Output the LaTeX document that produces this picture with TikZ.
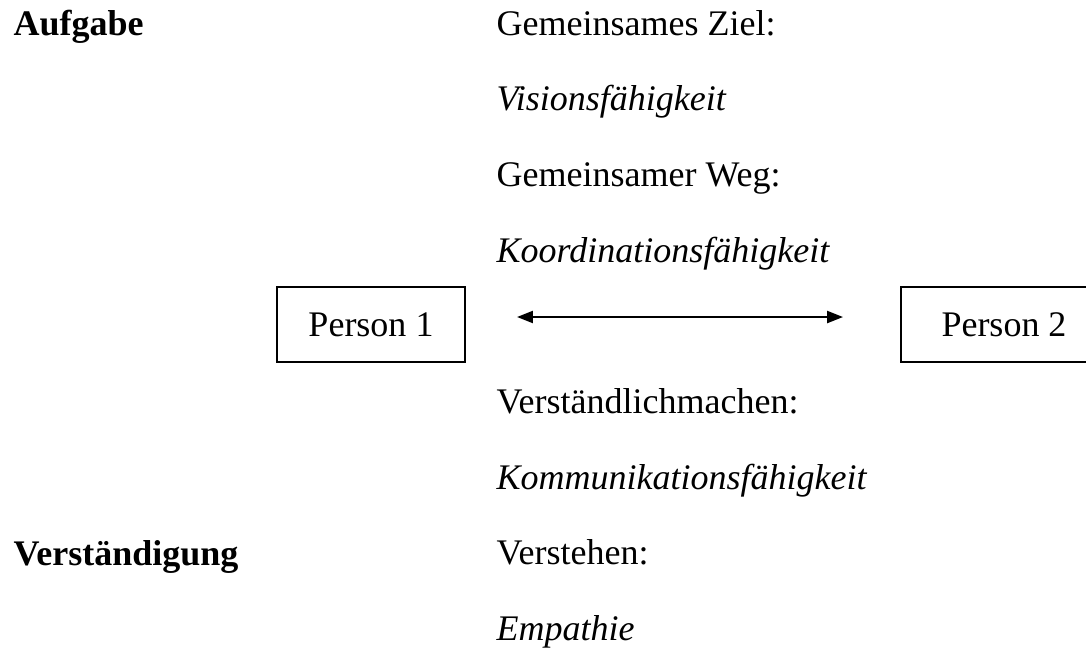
\documentclass[tikz,border=0pt]{standalone}
\usepackage{fontspec}
\setmainfont{Liberation Serif}
\usetikzlibrary{arrows.meta}
\tikzset{
    txt/.style={anchor=base west, inner sep=0pt, font=\fontsize{12}{14}\selectfont},
    head/.style={txt, font=\fontsize{12}{14}\selectfont\bfseries},
    ability/.style={txt, font=\fontsize{12}{14}\selectfont\itshape},
    personbox/.style={draw, line width=0.9pt, inner sep=0pt, minimum width=62.67pt, minimum height=25pt, font=\fontsize{12}{14}\selectfont},
}

\begin{document}
\begin{tikzpicture}[x=0.3333pt, y=-0.3333pt]
\useasboundingbox (0,0) rectangle (1086,647);
\node[head] (aufgabe) at (13,35) {Aufgabe};
\node[head] (verstaendigung) at (13,565) {Verständigung};

\node[txt] (ziel) at (496,35) {Gemeinsames Ziel:};
\node[ability] (vision) at (496,110.7) {Visionsfähigkeit};
\node[txt] (weg) at (496,186.4) {Gemeinsamer Weg:};
\node[ability] (koord) at (496,262.1) {Koordinationsfähigkeit};

\node[personbox] (p1) at (371,324.5) {Person 1};
\node[personbox] (p2) at (995,324.5) {\hspace{6pt}Person 2};
\coordinate (arrL) at (517,317);
\coordinate (arrR) at (843,317);
\draw[line width=0.7pt, {Triangle[length=5.3pt,width=4pt]}-{Triangle[length=5.3pt,width=4pt]}] (arrL) -- (arrR);

\node[txt] (machen) at (496,413.5) {Verständlichmachen:};
\node[ability] (komm) at (496,489.2) {Kommunikationsfähigkeit};
\node[txt] (verstehen) at (496,564.9) {Verstehen:};
\node[ability] (empathie) at (496,640.6) {Empathie};
\end{tikzpicture}
\end{document}
